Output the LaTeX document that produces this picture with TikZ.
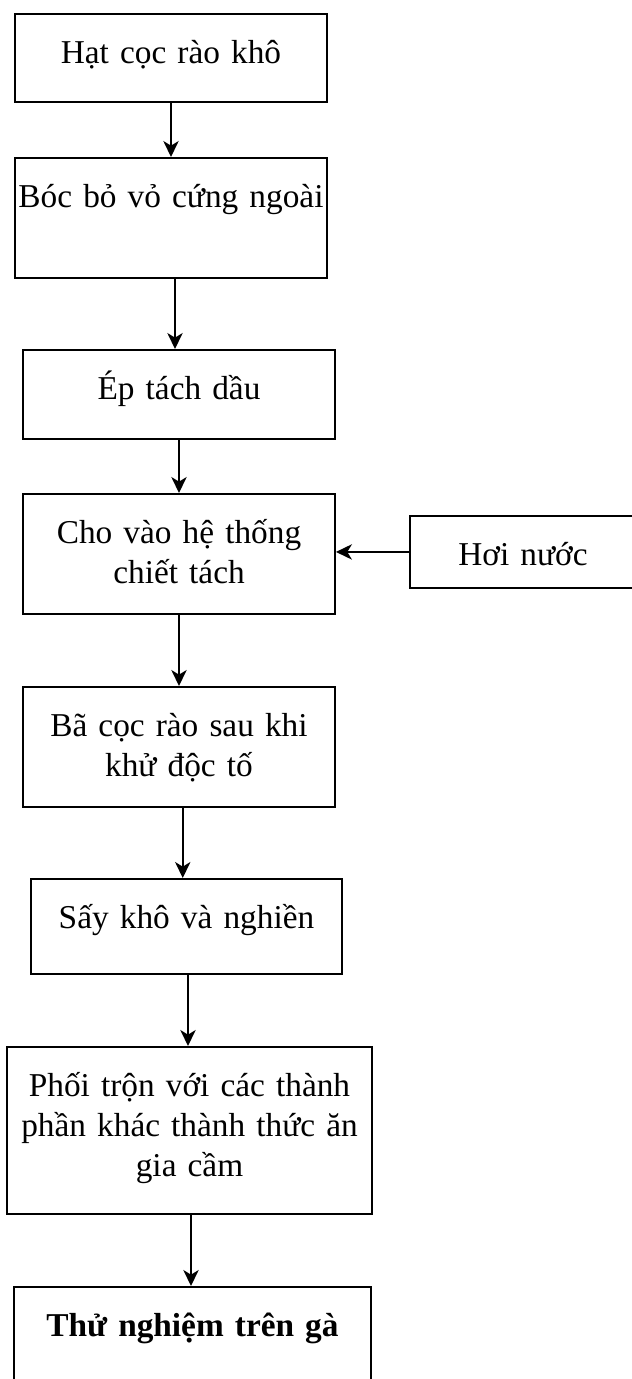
\documentclass[tikz,border=0pt]{standalone}
\usepackage{fontspec}
\setmainfont{Liberation Serif}
\usetikzlibrary{arrows.meta,calc}
\newcommand{\chuhop}{\fontsize{25pt}{30pt}\selectfont}

\begin{document}
\begin{tikzpicture}[x=0.75pt,y=-0.75pt,
	hop/.style={draw,line width=1.4pt,anchor=north,align=center,inner sep=0pt,text height=37.5pt,font=\chuhop},
	muiten/.style={-{Stealth[length=12pt,width=11.5pt,inset=3.5pt]},line width=1.4pt}]
				\useasboundingbox (0,0) rectangle (632,1379);
				\node[hop,text width=234pt,text depth=28.5pt] (hat) at (171,13) {Hạt cọc rào khô};
				\node[hop,text width=234pt,text depth=52.5pt] (boc) at (171,157) {\makebox[234pt]{Bóc bỏ vỏ cứng ngoài}};
				\node[hop,text width=234pt,text depth=29.25pt] (ep) at (179,349) {Ép tách dầu};
				\node[hop,text width=234pt,text depth=52.5pt] (chiet) at (179,493) {Cho vào hệ thống\\chiết tách};
				\node[hop,text width=169.5pt,text depth=16.5pt] (hoi) at (523,515) {Hơi nước};
				\node[hop,text width=234pt,text depth=52.5pt] (ba) at (179,686) {Bã cọc rào sau khi\\khử độc tố};
				\node[hop,text width=233.25pt,text depth=33.75pt] (say) at (186.5,878) {Sấy khô và nghiền};
				\node[hop,text width=273.75pt,text depth=87.75pt] (phoi) at (189.5,1046) {Phối trộn với các thành\\phần khác thành thức ăn\\gia cầm};
				\node[hop,text width=267.75pt,text depth=60pt,font=\chuhop\bfseries] (thu) at (192.5,1286) {Thử nghiệm trên gà};
				% mui ten giua cac buoc
				\foreach \a/\b in {hat/boc,boc/ep,ep/chiet,chiet/ba,ba/say,say/phoi,phoi/thu}
					\draw[muiten] ($(\a.south)!.5!(\b.north)$) coordinate (m) (m |- \a.south) -- (m |- \b.north);
				\draw[muiten] (hoi.west) -- (hoi.west -| chiet.east);
			\end{tikzpicture}
\end{document}
